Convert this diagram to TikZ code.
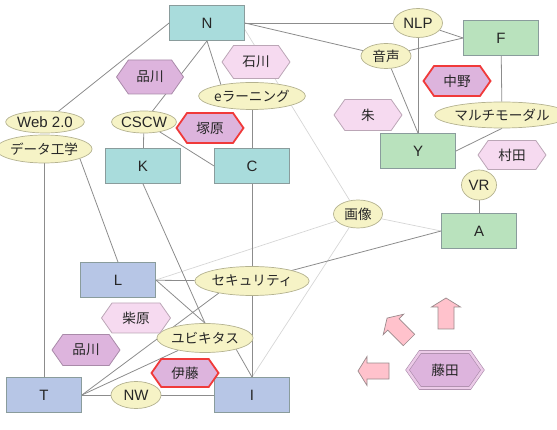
\documentclass[tikz,border=0pt]{standalone}
\usepackage{fontspec}
\setmainfont{Liberation Sans}
\newfontfamily\jpfont{Noto Sans CJK JP}
\usetikzlibrary{shapes.geometric,shapes.symbols}
\pgfdeclarelayer{background}
\pgfsetlayers{background,main}
\definecolor{tealfill}{HTML}{A9DCDC}
\definecolor{greenfill}{HTML}{B9E2BD}
\definecolor{bluefill}{HTML}{B7C6E6}
\definecolor{boxline}{HTML}{8A9C9C}
\definecolor{ellfill}{HTML}{F6F3C6}
\definecolor{ellline}{HTML}{B4B290}
\definecolor{purplefill}{HTML}{DDB4DD}
\definecolor{purpleline}{HTML}{A98AA9}
\definecolor{pinkfill}{HTML}{F6DAF0}
\definecolor{pinkline}{HTML}{BBA6B6}
\definecolor{redline}{HTML}{F03A3A}
\definecolor{arrowfill}{HTML}{FFC2CC}
\definecolor{arrowline}{HTML}{9A8A8C}
\definecolor{darkedge}{HTML}{8C8C8C}
\definecolor{lightedge}{HTML}{D6D6D6}
\definecolor{txt}{HTML}{262626}
\tikzset{
  latin/.style={font=\fontsize{15}{17}\selectfont, text=txt},
  jp/.style={font=\fontsize{13.6}{15}\selectfont\jpfont, text=txt},
  box/.style={rectangle, draw=boxline, line width=0.8pt, minimum width=75pt, minimum height=35pt, inner sep=0pt, latin},
  tealbox/.style={box, fill=tealfill},
  greenbox/.style={box, fill=greenfill},
  bluebox/.style={box, fill=bluefill},
  ell/.style={ellipse, draw=ellline, fill=ellfill, line width=0.7pt, inner sep=0pt},
  hexa/.style={signal, signal to=east and west, signal pointer angle=110, inner sep=0pt, line width=0.8pt, jp},
  hexdark/.style={hexa, fill=purplefill, draw=purpleline},
  hexlight/.style={hexa, fill=pinkfill, draw=pinkline},
  hexred/.style={hexa, fill=purplefill, draw=redline, line width=1.8pt},
  hexdouble/.style={hexa, fill=purplefill, draw=purpleline, line width=0.6pt, double=pinkfill!60!purplefill, double distance=2.4pt},
  edge/.style={draw=darkedge, line width=0.8pt},
  lightedgestyle/.style={draw=lightedge, line width=0.7pt},
  arrowst/.style={fill=arrowfill, draw=arrowline, line width=0.7pt, line join=miter},
  blockarrow/.pic={\path[arrowst] (0,-8) -- (22,-8) -- (22,-14.5) -- (31,0) -- (22,14.5) -- (22,8) -- (0,8) -- cycle;}
}
\begin{document}
\begin{tikzpicture}[x=1pt,y=-1pt]
\useasboundingbox (0,0) rectangle (557,430);

% boxes
\node[tealbox] (N) at (207,23) {N};
\node[tealbox] (K) at (143,166) {K};
\node[tealbox] (C) at (252,166) {C};
\node[greenbox] (F) at (501,38) {F};
\node[greenbox] (Y) at (418,151) {Y};
\node[greenbox] (A) at (479,231) {A};
\node[bluebox] (L) at (118,280) {L};
\node[bluebox] (T) at (44,395) {T};
\node[bluebox] (I) at (252,395) {I};

% ellipses
\node[ell, latin, minimum width=67pt, minimum height=22pt] (web) at (45,122) {Web 2.0};
\node[ell, jp, minimum width=79pt, minimum height=28pt] (data) at (44,149) {データ工学};
\node[ell, latin, minimum width=59pt, minimum height=22pt] (cscw) at (144,122) {CSCW};
\node[ell, jp, minimum width=88pt, minimum height=27pt] (eL) at (252,96) {eラーニング};
\node[ell, latin, minimum width=49pt, minimum height=29pt] (nlp) at (418,23) {NLP};
\node[ell, jp, minimum width=50pt, minimum height=25pt] (onsei) at (386,56) {音声};
\node[ell, jp, minimum width=108pt, minimum height=26pt] (multi) at (502,115) {マルチモーダル};
\node[ell, latin, minimum width=35pt, minimum height=30pt] (vr) at (479,185) {VR};
\node[ell, jp, minimum width=49pt, minimum height=28pt] (gazo) at (358,214) {画像};
\node[ell, jp, minimum width=93pt, minimum height=29pt] (sec) at (252,281) {セキュリティ};
\node[ell, jp, minimum width=69pt, minimum height=29pt] (ubi) at (205,338) {ユビキタス};
\node[ell, latin, minimum width=50pt, minimum height=27pt] (nw) at (136,395) {NW};

% hexagons
\node[hexdark, minimum width=67pt, minimum height=34pt] (shina) at (150,77) {品川};
\node[hexlight, minimum width=68pt, minimum height=33pt] (ishi) at (256,62) {石川};
\node[hexred, minimum width=67pt, minimum height=30pt] (tsuka) at (210,128) {塚原};
\node[hexred, minimum width=67pt, minimum height=30pt] (naka) at (457,81) {中野};
\node[hexlight, minimum width=68pt, minimum height=31pt] (shu) at (368,115) {朱};
\node[hexlight, minimum width=68pt, minimum height=29pt] (mura) at (512,155) {村田};
\node[hexlight, minimum width=69pt, minimum height=30pt] (shiba) at (136,318) {柴原};
\node[hexdark, minimum width=68pt, minimum height=31pt] (shinb) at (86,350) {品川};
\node[hexred, minimum width=67pt, minimum height=28pt] (ito) at (185,373) {伊藤};
\node[hexdouble, minimum width=75pt, minimum height=36pt] (fuji) at (445,370) {藤田};

% block arrows
\pic[rotate=90] (arrup) at (446,329) {blockarrow};
\pic[rotate=135] (arrdiag) at (409,340) {blockarrow};
\pic[rotate=180] (arrleft) at (389,371) {blockarrow};

\begin{pgfonlayer}{background}
  % light connectors
  \path[lightedgestyle] (N.-10) -- (gazo);
  \path[lightedgestyle] (gazo) -- (A.west);
  \path[lightedgestyle] (gazo) -- (I.north);
  \path[lightedgestyle] (L.east) -- (gazo);
  % dark connectors
  \path[edge] (N.west) -- (web);
  \path[edge] (N.south) -- (cscw);
  \path[edge] (N.south) -- (eL.160);
  \path[edge] (N) -- (nlp);
  \path[edge] (N.east) -- (onsei);
  \path[edge] (nlp) -- (F.west);
  \path[edge] (onsei) -- (F.west);
  \path[edge] (nlp) -- (Y);
  \path[edge] (onsei) -- (Y.north);
  \path[edge] (F) -- (multi);
  \path[edge] (multi.south) -- (Y.east);
  \path[edge] (vr) -- (A);
  \path[edge] (eL) -- (C);
  \path[edge] (cscw) -- (K);
  \path[edge] (cscw) -- (C.west);
  \path[edge] (data) -- (T);
  \path[edge] (data.-15) -- (L.north);
  \path[edge] (K.south) -- (ubi.north);
  \path[edge] (L.east) -- (ubi.north);
  \path[edge] (ubi.-20) -- (I.north);
  \path[edge] (L) -- (sec);
  \path[edge] (C) -- (I);
  \path[edge] (sec.200) -- (T.east);
  \path[edge] (ubi) -- (T.east);
  \path[edge] (T) -- (nw);
  \path[edge] (nw) -- (I);
  \path[edge] (sec) -- (A.west);
\end{pgfonlayer}
\end{tikzpicture}
\end{document}
